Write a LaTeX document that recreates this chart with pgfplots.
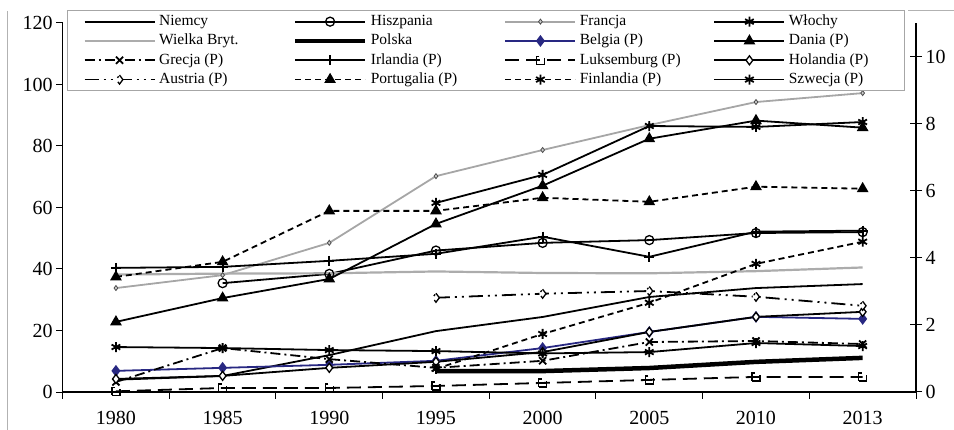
\documentclass[border=0pt]{standalone}
\usepackage{fontspec}
\setmainfont{Liberation Serif}
\usepackage{pgfplots}
\pgfplotsset{compat=1.18}
\definecolor{belg}{RGB}{40,40,130}
\newcommand{\LE}[1]{\makebox[96.5bp][l]{#1}}

\pgfplotsset{
  base/.style={scale only axis, width=853.4bp, height=369bp,
    xmin=-0.5, xmax=7.5, ymin=0,
    at={(0,0)}, anchor=south west,
    axis line style={black, line width=1.2bp, -},
    tick style={black, line width=1bp},
    ticklabel style={font=\fontsize{20bp}{24bp}\selectfont},
    /pgf/number format/assume math mode=true,
    clip=false},
  every axis plot/.append style={line width=1.8bp, mark options={solid}},
}

\begin{document}
\begin{tikzpicture}
\path[use as bounding box] (-62.6bp,-38bp) rectangle (891.4bp,392bp);

% left axis
\begin{axis}[base, ymax=120,
  axis x line*=bottom, axis y line*=left,
  xtick={-0.5,0.5,...,7.5}, xticklabels={},
  extra x ticks={0,1,...,7},
  extra x tick labels={1980,1985,1990,1995,2000,2005,2010,2013},
  extra x tick style={major tick length=0pt, xticklabel style={yshift=-16bp}},
  ytick={0,20,...,120},
  tick align=outside, major tick length=6.5bp]
% Niemcy
\addplot[black] coordinates {(0,4.0) (1,5.2) (2,12.0) (3,19.8) (4,24.4) (5,30.9) (6,33.8) (7,35.1)};
% Hiszpania
\addplot[black, mark=o, mark size=4.5bp, mark options={fill=white, line width=1.3bp}] coordinates {(1,35.4) (2,38.4) (3,46.0) (4,48.5) (5,49.4) (6,51.7) (7,52.0)};
% Francja
\addplot[gray!70, line width=1.8bp, mark=diamond*, mark size=2.5bp, mark options={fill=gray!40, draw=black!70, line width=0.8bp}] coordinates {(0,33.8) (1,38.0) (2,48.5) (3,70.2) (4,78.7) (5,86.8) (6,94.3) (7,97.2)};
% Wlochy
\addplot[black, mark=asterisk, mark size=5bp] coordinates {(3,61.5) (4,70.6) (5,86.5) (6,86.2) (7,87.8)};
% Wielka Bryt.
\addplot[gray!65, line width=2.2bp] coordinates {(0,38.2) (1,38.5) (2,38.6) (3,39.2) (4,38.7) (5,38.6) (6,39.3) (7,40.5)};
% Polska
\addplot[black, line width=4.5bp] coordinates {(3,6.8) (4,6.8) (5,7.8) (6,9.8) (7,11.1)};
\end{axis}

% right axis (P)
\begin{axis}[base, ymax=11,
  axis x line=none, axis y line*=right,
  ytick={0,2,...,10},
  tick align=center, major tick length=12bp,
  legend columns=4,
  legend cell align=left,
  legend style={at={(0.0052,1.0352)}, anchor=north west,
    draw=gray!70, line width=0.8bp, fill=white,
    inner xsep=16bp, inner ysep=4bp, row sep=4.8bp,
    font=\fontsize{15.5bp}{18bp}\selectfont,
    nodes={inner sep=0pt, inner xsep=3.5bp, text height=11bp, text depth=3.5bp},
    /tikz/every even column/.append style={column sep=33.7bp}},
  legend image code/.code={\draw[mark repeat=2, mark phase=2] plot coordinates {(0bp,0bp) (35bp,0bp) (70bp,0bp)};}]

\addlegendimage{black, line width=1.8bp}
\addlegendentry{\LE{Niemcy}}
\addlegendimage{black, line width=1.8bp, mark=o, mark size=4.5bp, mark options={fill=white, line width=1.3bp}}
\addlegendentry{\LE{Hiszpania}}
\addlegendimage{gray!70, line width=1.8bp, mark=diamond*, mark size=2.5bp, mark options={fill=gray!40, draw=black!70, line width=0.8bp}}
\addlegendentry{\LE{Francja}}
\addlegendimage{black, line width=1.8bp, mark=asterisk, mark size=5bp}
\addlegendentry{\LE{Włochy}}
\addlegendimage{gray!65, line width=2.2bp}
\addlegendentry{\LE{Wielka Bryt.}}
\addlegendimage{black, line width=4.5bp}
\addlegendentry{\LE{Polska}}

% Belgia (P)
\addplot[belg, mark=diamond*, mark size=4.5bp, mark options={fill=belg}] coordinates {(0,0.63) (1,0.72) (2,0.81) (3,0.93) (4,1.31) (5,1.79) (6,2.24) (7,2.18)};
\addlegendentry{\LE{Belgia (P)}}
% Dania (P)
\addplot[black, mark=triangle*, mark size=5bp] coordinates {(0,2.09) (1,2.80) (2,3.37) (3,5.01) (4,6.15) (5,7.55) (6,8.09) (7,7.88)};
\addlegendentry{\LE{Dania (P)}}
% Grecja (P)
\addplot[black, dash pattern=on 10bp off 4bp on 2bp off 4bp, mark=x, mark size=5bp] coordinates {(0,0.30) (1,1.31) (2,0.98) (3,0.72) (4,0.93) (5,1.49) (6,1.52) (7,1.43)};
\addlegendentry{\LE{Grecja (P)}}
% Irlandia (P)
\addplot[black, mark=+, mark size=5bp] coordinates {(0,3.70) (1,3.73) (2,3.91) (3,4.12) (4,4.63) (5,4.03) (6,4.78) (7,4.81)};
\addlegendentry{\LE{Irlandia (P)}}
% Luksemburg (P)
\addplot[black, dash pattern=on 14bp off 7bp, mark=square, mark size=4bp, mark options={fill=white, line width=1.3bp}] coordinates {(0,0.02) (1,0.12) (2,0.12) (3,0.18) (4,0.27) (5,0.36) (6,0.45) (7,0.45)};
\addlegendentry{\LE{Luksemburg (P)}}
% Holandia (P)
\addplot[black, mark=diamond*, mark size=4.5bp, mark options={fill=white, line width=1.3bp}] coordinates {(0,0.39) (1,0.48) (2,0.72) (3,0.90) (4,1.19) (5,1.79) (6,2.24) (7,2.39)};
\addlegendentry{\LE{Holandia (P)}}
% Austria (P)
\addplot[black, dash pattern=on 14bp off 5bp on 2bp off 5bp on 2bp off 5bp, mark=diamond*, mark size=4.5bp, mark options={fill=white, line width=1.3bp}] coordinates {(3,2.81) (4,2.93) (5,3.01) (6,2.84) (7,2.57)};
\addlegendentry{\LE{Austria (P)}}
% Portugalia (P)
\addplot[black, dash pattern=on 6bp off 4bp, mark=triangle*, mark size=5bp] coordinates {(0,3.43) (1,3.88) (2,5.40) (3,5.40) (4,5.79) (5,5.67) (6,6.12) (7,6.06)};
\addlegendentry{\LE{Portugalia (P)}}
% Finlandia (P)
\addplot[black, dash pattern=on 6bp off 4bp, mark=asterisk, mark size=5bp] coordinates {(3,0.69) (4,1.73) (5,2.66) (6,3.82) (7,4.48)};
\addlegendentry{\LE{Finlandia (P)}}
% Szwecja (P)
\addplot[black, mark=asterisk, mark size=5bp] coordinates {(0,1.34) (1,1.31) (2,1.25) (3,1.22) (4,1.15) (5,1.19) (6,1.46) (7,1.37)};
\addlegendentry{\LE{Szwecja (P)}}
\end{axis}

\draw[gray!60, line width=1bp] (-54.6bp,-40bp) -- (-54.6bp,380.5bp);
\draw[gray!60, line width=1bp] (845.4bp,381bp) -- (895bp,381bp);
\end{tikzpicture}
\end{document}
